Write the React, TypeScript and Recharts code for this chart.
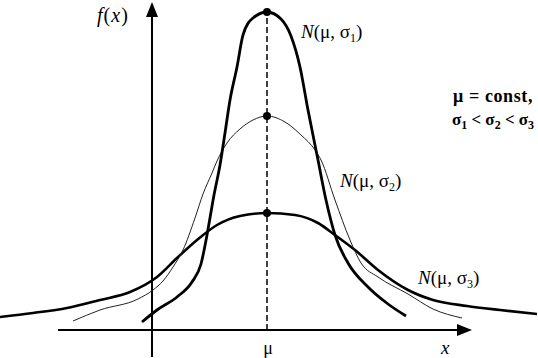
import React from "react";
import { ComposedChart, Line, ReferenceDot, ReferenceLine, XAxis, YAxis } from "recharts";

// values: x is the offset from μ, y the height above the x axis (both in px of the original)
type Pt = { x: number; y: number };

const SIGMA1_POINTS: Pt[] = [
  { x: -125, y: 8 }, { x: -110, y: 20 }, { x: -90, y: 33 }, { x: -75, y: 48 }, { x: -66, y: 66 },
  { x: -60, y: 95 }, { x: -53, y: 135 }, { x: -47, y: 165 }, { x: -42, y: 197 }, { x: -37, y: 230 },
  { x: -30, y: 263 }, { x: -24, y: 295 }, { x: -14, y: 312 }, { x: 0, y: 318 }, { x: 14, y: 311 },
  { x: 24, y: 294 }, { x: 33, y: 263 }, { x: 41, y: 220 }, { x: 51, y: 170 }, { x: 59, y: 130 },
  { x: 68, y: 95 }, { x: 81, y: 67 }, { x: 101, y: 43 }, { x: 121, y: 26 }, { x: 139, y: 14 },
];

const SIGMA2_POINTS: Pt[] = [
  { x: -194, y: 9 }, { x: -167, y: 20 }, { x: -129, y: 31 }, { x: -114, y: 40 }, { x: -104, y: 49 },
  { x: -94, y: 63 }, { x: -84, y: 80 }, { x: -72, y: 112 }, { x: -64, y: 136 }, { x: -55, y: 157 },
  { x: -50, y: 169 }, { x: -40, y: 187 }, { x: -27, y: 201 }, { x: -14, y: 210 }, { x: 0, y: 214 },
  { x: 18, y: 208 }, { x: 34, y: 195 }, { x: 48, y: 180 }, { x: 54, y: 170 }, { x: 68, y: 130 },
  { x: 83, y: 90 }, { x: 94, y: 67 }, { x: 111, y: 53 }, { x: 141, y: 36 }, { x: 166, y: 21 },
  { x: 195, y: 12 },
];

const SIGMA3_POINTS: Pt[] = [
  { x: -267, y: 13 }, { x: -234, y: 17 }, { x: -200, y: 22 }, { x: -167, y: 30 }, { x: -137, y: 38 },
  { x: -110, y: 53 }, { x: -90, y: 72 }, { x: -70, y: 90 }, { x: -50, y: 105 }, { x: -27, y: 114 },
  { x: 0, y: 117 }, { x: 28, y: 115 }, { x: 51, y: 107 }, { x: 68, y: 95 }, { x: 88, y: 80 },
  { x: 111, y: 60 }, { x: 141, y: 40 }, { x: 166, y: 30 }, { x: 200, y: 24 }, { x: 233, y: 20 },
  { x: 270, y: 16 },
];

const PEAKS: Pt[] = [{ x: 0, y: 318 }, { x: 0, y: 214 }, { x: 0, y: 117 }];

const FONT = "'Liberation Serif', 'DejaVu Serif', serif";

const arrowRight = (p: any) => (
  <polygon points={`${p.cx},${p.cy} ${p.cx - 15},${p.cy - 6} ${p.cx - 15},${p.cy + 6}`} fill="#000" />
);
const arrowUp = (p: any) => (
  <polygon points={`${p.cx},${p.cy} ${p.cx - 6},${p.cy + 15} ${p.cx + 6},${p.cy + 15}`} fill="#000" />
);

// N(μ, σi) label drawn at the anchor's position
const normalLabel = (i: string) => (p: any) => (
  <text x={p.cx} y={p.cy} fontFamily={FONT} fontSize={19} fill="#000">
    <tspan fontStyle="italic">N</tspan>
    <tspan>(μ, σ</tspan>
    <tspan dy={4} fontSize={12}>{i}</tspan>
    <tspan dy={-4}>)</tspan>
  </text>
);

const textAt = (content: React.ReactNode, extra: any = {}) => (p: any) => (
  <text x={p.cx} y={p.cy} fontFamily={FONT} fontSize={18} fill="#000" {...extra}>
    {content}
  </text>
);

const noDot = () => <g />;

export default function App() {
  return (
    <div style={{ width: 538, height: 358, background: "#fff" }}>
      <style>{"body{margin:0}"}</style>
      <ComposedChart width={538} height={358} margin={{ top: 0, right: 0, bottom: 0, left: 0 }}>
        <XAxis type="number" dataKey="x" domain={[-267, 271]} hide allowDataOverflow />
        <YAxis type="number" dataKey="y" domain={[-28, 330]} hide allowDataOverflow />

        {/* axes */}
        <ReferenceLine segment={[{ x: -209, y: 0 }, { x: 195, y: 0 }]} stroke="#000" strokeWidth={2} />
        <ReferenceDot x={205} y={0} r={0} shape={arrowRight} />
        <ReferenceLine segment={[{ x: -115, y: -27 }, { x: -115, y: 318 }]} stroke="#000" strokeWidth={2} />
        <ReferenceDot x={-115} y={328} r={0} shape={arrowUp} />

        {/* dashed line at μ */}
        <ReferenceLine segment={[{ x: 0, y: 0 }, { x: 0, y: 318 }]} stroke="#000" strokeWidth={1.5} strokeDasharray="6 3" />

        <Line data={SIGMA3_POINTS} dataKey="y" type="monotone" stroke="#000" strokeWidth={2.6} dot={noDot} activeDot={false} isAnimationActive={false} />
        <Line data={SIGMA2_POINTS} dataKey="y" type="monotone" stroke="#222" strokeWidth={1} dot={noDot} activeDot={false} isAnimationActive={false} />
        <Line data={SIGMA1_POINTS} dataKey="y" type="monotone" stroke="#000" strokeWidth={2.8} dot={noDot} activeDot={false} isAnimationActive={false} />

        {PEAKS.map((p, i) => (
          <ReferenceDot key={i} x={p.x} y={p.y} r={4} fill="#000" stroke="none" />
        ))}

        {/* labels */}
        <ReferenceDot x={-170} y={308} r={0} shape={textAt(<><tspan fontStyle="italic">f</tspan>(<tspan fontStyle="italic">x</tspan>)</>, { fontSize: 20, letterSpacing: 1 })} />
        <ReferenceDot x={34} y={292} r={0} shape={normalLabel("1")} />
        <ReferenceDot x={73} y={143} r={0} shape={normalLabel("2")} />
        <ReferenceDot x={151} y={46} r={0} shape={normalLabel("3")} />
        <ReferenceDot x={226} y={228} r={0} shape={textAt("μ = const,", { textAnchor: "middle", fontWeight: "bold", fontSize: 18, letterSpacing: 0.6 })} />
        <ReferenceDot
          x={226}
          y={205}
          r={0}
          shape={textAt(
            <>
              σ<tspan dy={4} fontSize={12}>1</tspan>
              <tspan dy={-4}> &lt; σ</tspan>
              <tspan dy={4} fontSize={12}>2</tspan>
              <tspan dy={-4}> &lt; σ</tspan>
              <tspan dy={4} fontSize={12}>3</tspan>
            </>,
            { textAnchor: "middle", fontWeight: "bold", fontSize: 17 }
          )}
        />
        <ReferenceDot x={1} y={-24} r={0} shape={textAt("μ", { textAnchor: "middle" })} />
        <ReferenceDot x={174} y={-24} r={0} shape={textAt("x", { fontStyle: "italic", fontSize: 19 })} />
      </ComposedChart>
    </div>
  );
}
